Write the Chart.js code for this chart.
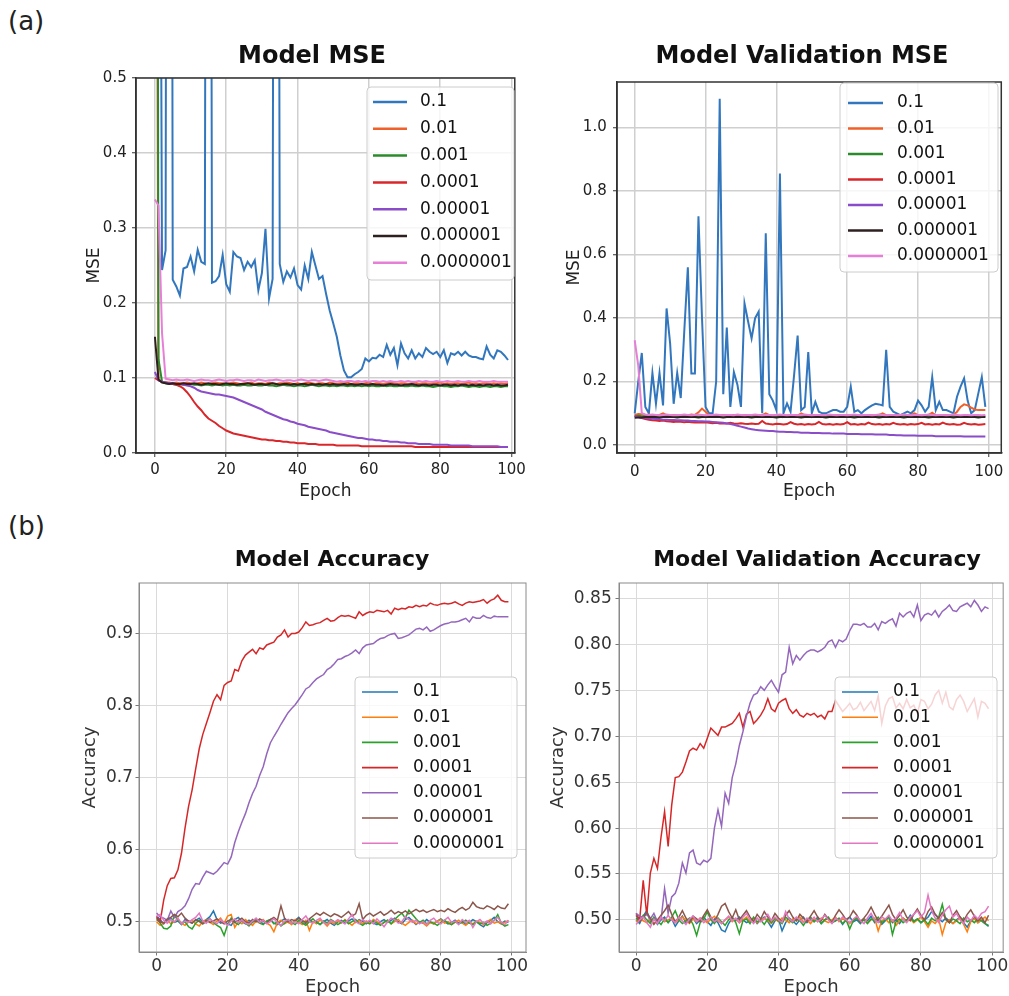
<!DOCTYPE html>
<html>
<head>
<meta charset="utf-8">
<script src="https://cdn.jsdelivr.net/npm/chart.js@4/dist/chart.umd.min.js"></script>
<style>
html,body{margin:0;padding:0;background:#fff;width:1009px;height:996px;overflow:hidden;}
.panel{position:absolute;}
.tag{position:absolute;font-family:'DejaVu Sans',sans-serif;font-size:26px;line-height:1;color:#222;}
</style>
</head>
<body>
<div class="tag" style="left:8px;top:8px">(a)</div>
<div class="tag" style="left:8px;top:513px">(b)</div>
<div class="panel" id="p1"><canvas id="c1"></canvas></div>
<div class="panel" id="p2"><canvas id="c2"></canvas></div>
<div class="panel" id="p3"><canvas id="c3"></canvas></div>
<div class="panel" id="p4"><canvas id="c4"></canvas></div>
<script>
// ---------------- DATA ----------------
const lrLabels = ['0.1','0.01','0.001','0.0001','0.00001','0.000001','0.0000001'];
const epochs = [
0,1,2,3,4,5,6,7,8,9,
10,11,12,13,14,15,16,17,18,19,
20,21,22,23,24,25,26,27,28,29,
30,31,32,33,34,35,36,37,38,39,
40,41,42,43,44,45,46,47,48,49,
50,51,52,53,54,55,56,57,58,59,
60,61,62,63,64,65,66,67,68,69,
70,71,72,73,74,75,76,77,78,79,
80,81,82,83,84,85,86,87,88,89,
90,91,92,93,94,95,96,97,98,99];

const epochTicks = [0,20,40,60,80,100];
const epochTickLabels = ['0','20','40','60','80','100'];
const mseTicks = [0,0.1,0.2,0.3,0.4,0.5];
const mseTickLabels = ['0.0','0.1','0.2','0.3','0.4','0.5'];
const valMseTicks = [0,0.2,0.4,0.6,0.8,1.0];
const valMseTickLabels = ['0.0','0.2','0.4','0.6','0.8','1.0'];
const accTicks = [0.5,0.6,0.7,0.8,0.9];
const accTickLabels = ['0.5','0.6','0.7','0.8','0.9'];
const valAccTicks = [0.50,0.55,0.60,0.65,0.70,0.75,0.80,0.85];
const valAccTickLabels = ['0.50','0.55','0.60','0.65','0.70','0.75','0.80','0.85'];

// (a) Model MSE (training)
const trainMSE_1e1 = [
5.2,1.5,0.244,0.270,3.2,0.231,0.222,0.210,0.246,0.248,
0.262,0.242,0.271,0.255,0.252,2.8,0.227,0.229,0.236,0.264,
0.225,0.215,0.268,0.262,0.260,0.244,0.255,0.248,0.257,0.217,
0.240,0.299,0.206,0.232,2.5,0.252,0.228,0.242,0.234,0.246,
0.224,0.218,0.250,0.232,0.268,0.250,0.232,0.236,0.212,0.190,
0.173,0.155,0.130,0.110,0.101,0.101,0.105,0.108,0.112,0.126,
0.122,0.127,0.126,0.131,0.128,0.144,0.131,0.140,0.117,0.146,
0.133,0.126,0.137,0.126,0.133,0.128,0.140,0.135,0.132,0.135,
0.128,0.137,0.120,0.133,0.131,0.135,0.130,0.135,0.130,0.128,
0.128,0.126,0.125,0.142,0.131,0.126,0.137,0.135,0.130,0.124];
const trainMSE_1e2 = [
1.6,0.098,0.095,0.094,0.094,0.093,0.094,0.093,0.093,0.094,
0.093,0.092,0.093,0.094,0.093,0.092,0.093,0.094,0.093,0.093,
0.092,0.093,0.094,0.093,0.092,0.093,0.093,0.094,0.092,0.093,
0.093,0.092,0.094,0.093,0.092,0.093,0.093,0.094,0.093,0.092,
0.093,0.092,0.093,0.094,0.093,0.092,0.093,0.093,0.092,0.094,
0.093,0.092,0.093,0.093,0.094,0.092,0.093,0.093,0.092,0.093,
0.094,0.092,0.093,0.093,0.092,0.093,0.094,0.093,0.092,0.093,
0.093,0.092,0.093,0.094,0.092,0.093,0.093,0.092,0.093,0.093,
0.094,0.092,0.093,0.092,0.093,0.093,0.092,0.093,0.094,0.092,
0.093,0.092,0.093,0.093,0.092,0.093,0.092,0.093,0.092,0.093];
const trainMSE_1e3 = [
3.0,0.125,0.095,0.093,0.092,0.092,0.091,0.092,0.091,0.091,
0.092,0.091,0.091,0.090,0.091,0.091,0.090,0.091,0.091,0.090,
0.091,0.090,0.091,0.090,0.090,0.091,0.090,0.090,0.091,0.090,
0.090,0.091,0.090,0.090,0.089,0.090,0.091,0.090,0.090,0.089,
0.090,0.090,0.089,0.090,0.091,0.090,0.089,0.090,0.090,0.089,
0.090,0.089,0.090,0.090,0.089,0.090,0.089,0.090,0.089,0.090,
0.089,0.090,0.089,0.089,0.090,0.089,0.090,0.089,0.089,0.090,
0.089,0.089,0.090,0.089,0.089,0.090,0.089,0.089,0.088,0.089,
0.090,0.089,0.089,0.088,0.089,0.089,0.090,0.089,0.088,0.089,
0.089,0.088,0.089,0.089,0.088,0.089,0.089,0.088,0.089,0.089];
const trainMSE_1e4 = [
0.100,0.097,0.095,0.094,0.093,0.092,0.091,0.089,0.086,0.081,
0.075,0.068,0.062,0.057,0.051,0.046,0.043,0.040,0.036,0.033,
0.030,0.028,0.026,0.025,0.024,0.023,0.022,0.021,0.020,0.019,
0.018,0.018,0.017,0.017,0.016,0.016,0.015,0.015,0.014,0.014,
0.013,0.013,0.013,0.012,0.012,0.012,0.011,0.011,0.011,0.011,
0.011,0.010,0.010,0.010,0.010,0.010,0.010,0.010,0.009,0.009,
0.009,0.009,0.009,0.009,0.009,0.009,0.009,0.009,0.009,0.009,
0.009,0.009,0.009,0.008,0.008,0.008,0.008,0.008,0.008,0.008,
0.008,0.008,0.008,0.008,0.008,0.008,0.008,0.008,0.008,0.008,
0.008,0.008,0.008,0.008,0.008,0.008,0.008,0.008,0.008,0.008];
const trainMSE_1e5 = [
0.108,0.097,0.095,0.094,0.093,0.093,0.092,0.092,0.091,0.090,
0.089,0.087,0.084,0.082,0.081,0.080,0.079,0.078,0.078,0.077,
0.076,0.075,0.074,0.072,0.070,0.068,0.066,0.064,0.062,0.060,
0.058,0.055,0.053,0.051,0.049,0.047,0.045,0.044,0.042,0.041,
0.039,0.038,0.037,0.035,0.034,0.033,0.032,0.031,0.030,0.028,
0.027,0.026,0.025,0.024,0.023,0.022,0.021,0.020,0.020,0.019,
0.018,0.018,0.017,0.017,0.016,0.016,0.015,0.015,0.015,0.014,
0.014,0.013,0.013,0.013,0.012,0.012,0.012,0.012,0.011,0.011,
0.011,0.011,0.011,0.010,0.010,0.010,0.010,0.010,0.010,0.009,
0.009,0.009,0.009,0.009,0.009,0.009,0.009,0.008,0.008,0.008];
const trainMSE_1e6 = [
0.155,0.098,0.094,0.093,0.092,0.093,0.092,0.092,0.093,0.092,
0.092,0.093,0.092,0.091,0.092,0.093,0.092,0.092,0.091,0.092,
0.093,0.092,0.092,0.091,0.092,0.092,0.093,0.092,0.091,0.092,
0.092,0.091,0.092,0.093,0.092,0.091,0.092,0.092,0.091,0.092,
0.091,0.092,0.092,0.091,0.092,0.091,0.092,0.091,0.092,0.091,
0.092,0.091,0.091,0.092,0.091,0.092,0.091,0.091,0.092,0.091,
0.091,0.092,0.091,0.091,0.090,0.091,0.092,0.091,0.091,0.090,
0.091,0.091,0.092,0.091,0.090,0.091,0.091,0.090,0.091,0.091,
0.090,0.091,0.091,0.090,0.091,0.090,0.091,0.091,0.090,0.091,
0.090,0.091,0.090,0.091,0.091,0.090,0.091,0.090,0.090,0.091];
const trainMSE_1e7 = [
0.338,0.330,0.160,0.099,0.098,0.097,0.098,0.097,0.097,0.098,
0.097,0.096,0.097,0.098,0.097,0.097,0.096,0.097,0.098,0.097,
0.096,0.097,0.097,0.098,0.097,0.096,0.097,0.097,0.096,0.098,
0.097,0.096,0.097,0.097,0.098,0.097,0.096,0.097,0.097,0.096,
0.097,0.098,0.097,0.096,0.097,0.097,0.096,0.097,0.098,0.097,
0.096,0.095,0.096,0.095,0.096,0.096,0.095,0.096,0.095,0.096,
0.095,0.096,0.096,0.095,0.096,0.095,0.096,0.095,0.095,0.096,
0.095,0.096,0.095,0.095,0.096,0.095,0.096,0.095,0.095,0.096,
0.095,0.095,0.096,0.095,0.095,0.096,0.095,0.095,0.096,0.095,
0.095,0.096,0.095,0.095,0.095,0.096,0.095,0.095,0.095,0.095];

// (a) Model Validation MSE
const valMSE_1e1 = [
0.100,0.200,0.290,0.120,0.100,0.227,0.130,0.227,0.125,0.430,
0.320,0.130,0.227,0.148,0.360,0.560,0.225,0.225,0.720,0.400,
0.120,0.100,0.100,0.200,1.090,0.160,0.370,0.120,0.230,0.190,
0.120,0.446,0.390,0.336,0.400,0.420,0.100,0.667,0.160,0.140,
0.110,0.855,0.100,0.131,0.105,0.220,0.345,0.110,0.120,0.293,
0.100,0.136,0.105,0.100,0.100,0.105,0.110,0.110,0.105,0.105,
0.120,0.184,0.105,0.110,0.100,0.110,0.118,0.125,0.130,0.128,
0.125,0.300,0.120,0.105,0.100,0.094,0.100,0.105,0.100,0.110,
0.140,0.125,0.105,0.120,0.214,0.110,0.136,0.110,0.110,0.105,
0.100,0.152,0.184,0.210,0.140,0.100,0.110,0.162,0.214,0.120];
const valMSE_1e2 = [
0.095,0.098,0.097,0.094,0.096,0.093,0.094,0.095,0.100,0.094,
0.093,0.095,0.094,0.093,0.095,0.094,0.096,0.095,0.103,0.115,
0.105,0.095,0.094,0.093,0.094,0.095,0.094,0.093,0.095,0.094,
0.093,0.094,0.095,0.094,0.093,0.095,0.094,0.100,0.094,0.093,
0.094,0.095,0.094,0.093,0.094,0.095,0.093,0.100,0.094,0.093,
0.094,0.095,0.093,0.094,0.095,0.094,0.093,0.094,0.095,0.094,
0.093,0.094,0.095,0.094,0.093,0.094,0.095,0.094,0.093,0.095,
0.100,0.094,0.093,0.094,0.095,0.094,0.093,0.094,0.095,0.100,
0.094,0.093,0.094,0.095,0.102,0.094,0.093,0.095,0.094,0.093,
0.095,0.105,0.120,0.128,0.125,0.118,0.112,0.110,0.110,0.110];
const valMSE_1e3 = [
0.091,0.092,0.091,0.090,0.091,0.091,0.090,0.091,0.090,0.091,
0.090,0.091,0.090,0.090,0.091,0.090,0.090,0.091,0.090,0.090,
0.091,0.090,0.090,0.091,0.090,0.090,0.091,0.090,0.090,0.090,
0.091,0.090,0.090,0.091,0.090,0.090,0.090,0.091,0.090,0.090,
0.091,0.090,0.090,0.090,0.091,0.090,0.090,0.091,0.090,0.090,
0.090,0.091,0.090,0.090,0.090,0.091,0.090,0.090,0.091,0.090,
0.090,0.090,0.091,0.090,0.090,0.091,0.090,0.090,0.090,0.091,
0.090,0.090,0.091,0.090,0.090,0.090,0.091,0.090,0.090,0.091,
0.090,0.090,0.090,0.091,0.090,0.090,0.091,0.090,0.090,0.090,
0.091,0.090,0.090,0.091,0.090,0.090,0.090,0.091,0.090,0.090];
const valMSE_1e4 = [
0.092,0.088,0.085,0.082,0.080,0.078,0.077,0.076,0.077,0.075,
0.074,0.073,0.074,0.073,0.072,0.073,0.072,0.071,0.072,0.071,
0.072,0.070,0.069,0.070,0.068,0.069,0.068,0.070,0.068,0.067,
0.069,0.067,0.066,0.068,0.066,0.067,0.076,0.068,0.066,0.065,
0.067,0.066,0.065,0.066,0.072,0.067,0.065,0.066,0.064,0.066,
0.065,0.066,0.073,0.066,0.065,0.066,0.064,0.066,0.065,0.066,
0.072,0.065,0.066,0.064,0.066,0.065,0.071,0.066,0.065,0.066,
0.064,0.066,0.065,0.070,0.066,0.065,0.066,0.064,0.066,0.065,
0.066,0.070,0.065,0.066,0.064,0.066,0.065,0.071,0.066,0.065,
0.066,0.064,0.065,0.070,0.066,0.065,0.066,0.064,0.065,0.066];
const valMSE_1e5 = [
0.092,0.088,0.086,0.085,0.084,0.083,0.082,0.081,0.080,0.080,
0.079,0.079,0.078,0.078,0.077,0.077,0.076,0.076,0.075,0.075,
0.074,0.074,0.073,0.072,0.071,0.070,0.068,0.066,0.064,0.061,
0.058,0.055,0.052,0.050,0.048,0.047,0.046,0.045,0.044,0.044,
0.043,0.042,0.042,0.041,0.041,0.040,0.040,0.039,0.039,0.039,
0.038,0.038,0.038,0.037,0.037,0.037,0.036,0.036,0.036,0.036,
0.035,0.035,0.035,0.035,0.034,0.034,0.034,0.034,0.033,0.033,
0.033,0.033,0.032,0.032,0.031,0.031,0.030,0.030,0.030,0.030,
0.029,0.029,0.029,0.029,0.029,0.028,0.028,0.028,0.028,0.028,
0.028,0.028,0.028,0.027,0.027,0.027,0.027,0.027,0.027,0.027];
const valMSE_1e6 = [
0.086,0.087,0.087,0.088,0.088,0.088,0.088,0.087,0.088,0.088,
0.088,0.088,0.087,0.088,0.088,0.088,0.088,0.088,0.087,0.088,
0.088,0.088,0.088,0.088,0.088,0.087,0.088,0.088,0.088,0.088,
0.088,0.088,0.088,0.087,0.088,0.088,0.088,0.088,0.088,0.088,
0.087,0.088,0.088,0.088,0.088,0.088,0.088,0.087,0.088,0.088,
0.088,0.088,0.088,0.088,0.087,0.088,0.088,0.088,0.088,0.088,
0.088,0.088,0.087,0.088,0.088,0.088,0.088,0.088,0.088,0.087,
0.088,0.088,0.088,0.088,0.088,0.088,0.087,0.088,0.088,0.088,
0.088,0.088,0.088,0.087,0.088,0.088,0.088,0.088,0.088,0.088,
0.087,0.088,0.088,0.088,0.088,0.088,0.088,0.087,0.088,0.088];
const valMSE_1e7 = [
0.330,0.250,0.100,0.096,0.095,0.096,0.095,0.094,0.095,0.096,
0.095,0.094,0.095,0.095,0.096,0.095,0.094,0.095,0.096,0.095,
0.094,0.095,0.095,0.096,0.095,0.094,0.095,0.095,0.094,0.096,
0.095,0.094,0.095,0.095,0.096,0.095,0.094,0.095,0.095,0.094,
0.095,0.096,0.095,0.094,0.095,0.095,0.094,0.095,0.096,0.095,
0.094,0.095,0.095,0.094,0.095,0.096,0.095,0.094,0.095,0.095,
0.094,0.095,0.096,0.095,0.094,0.095,0.095,0.094,0.095,0.096,
0.095,0.094,0.095,0.095,0.094,0.095,0.096,0.095,0.094,0.095,
0.095,0.094,0.095,0.096,0.095,0.094,0.095,0.095,0.094,0.095,
0.096,0.095,0.094,0.095,0.095,0.094,0.095,0.095,0.094,0.095];

// (b) Model Accuracy (training)
const acc_1e1 = [
0.508,0.503,0.497,0.502,0.505,0.499,0.501,0.496,0.503,0.500,
0.498,0.502,0.505,0.500,0.503,0.507,0.515,0.503,0.498,0.500,
0.497,0.495,0.503,0.506,0.500,0.497,0.502,0.499,0.504,0.501,
0.497,0.500,0.503,0.498,0.496,0.501,0.504,0.499,0.497,0.502,
0.506,0.500,0.497,0.503,0.499,0.501,0.496,0.500,0.503,0.498,
0.495,0.500,0.502,0.498,0.501,0.504,0.499,0.503,0.500,0.497,
0.501,0.498,0.496,0.500,0.503,0.499,0.502,0.505,0.500,0.497,
0.503,0.506,0.501,0.496,0.500,0.498,0.503,0.499,0.497,0.501,
0.504,0.500,0.497,0.499,0.502,0.498,0.501,0.496,0.499,0.503,
0.500,0.496,0.493,0.499,0.502,0.506,0.500,0.497,0.501,0.499];
const acc_1e2 = [
0.500,0.495,0.498,0.503,0.497,0.500,0.504,0.498,0.495,0.500,
0.502,0.497,0.494,0.500,0.503,0.499,0.496,0.501,0.505,0.498,
0.508,0.510,0.492,0.500,0.497,0.503,0.499,0.495,0.501,0.498,
0.503,0.498,0.495,0.486,0.499,0.502,0.497,0.500,0.496,0.503,
0.499,0.496,0.502,0.488,0.500,0.497,0.503,0.499,0.494,0.500,
0.497,0.501,0.498,0.503,0.499,0.495,0.500,0.502,0.497,0.501,
0.498,0.503,0.500,0.496,0.499,0.502,0.497,0.500,0.503,0.498,
0.495,0.499,0.502,0.497,0.500,0.498,0.494,0.499,0.497,0.501,
0.503,0.498,0.500,0.496,0.499,0.502,0.498,0.495,0.500,0.497,
0.501,0.499,0.496,0.500,0.503,0.498,0.500,0.497,0.499,0.502];
const acc_1e3 = [
0.505,0.498,0.491,0.490,0.494,0.509,0.502,0.497,0.500,0.493,
0.490,0.498,0.502,0.497,0.500,0.504,0.499,0.495,0.492,0.481,
0.496,0.505,0.499,0.496,0.502,0.498,0.494,0.500,0.503,0.498,
0.496,0.501,0.503,0.497,0.500,0.494,0.498,0.503,0.499,0.496,
0.502,0.498,0.495,0.500,0.504,0.499,0.496,0.501,0.498,0.503,
0.500,0.496,0.499,0.502,0.497,0.500,0.503,0.498,0.495,0.499,
0.497,0.501,0.498,0.495,0.499,0.502,0.497,0.503,0.508,0.512,
0.505,0.516,0.510,0.504,0.499,0.502,0.497,0.500,0.498,0.495,
0.499,0.502,0.498,0.496,0.500,0.497,0.499,0.502,0.498,0.496,
0.500,0.497,0.499,0.495,0.498,0.502,0.510,0.498,0.494,0.496];
const acc_1e4 = [
0.507,0.500,0.530,0.550,0.560,0.561,0.572,0.595,0.630,0.660,
0.683,0.712,0.740,0.760,0.775,0.790,0.806,0.815,0.808,0.828,
0.832,0.834,0.850,0.848,0.862,0.870,0.874,0.878,0.872,0.880,
0.878,0.884,0.886,0.888,0.895,0.898,0.905,0.895,0.900,0.900,
0.902,0.908,0.916,0.911,0.912,0.914,0.915,0.918,0.921,0.917,
0.918,0.922,0.925,0.924,0.925,0.923,0.921,0.930,0.925,0.928,
0.930,0.929,0.932,0.931,0.930,0.932,0.927,0.935,0.933,0.935,
0.934,0.937,0.936,0.939,0.937,0.939,0.938,0.942,0.940,0.939,
0.941,0.942,0.941,0.942,0.944,0.941,0.939,0.942,0.944,0.943,
0.944,0.945,0.947,0.942,0.946,0.948,0.953,0.946,0.944,0.944];
const acc_1e5 = [
0.512,0.507,0.505,0.502,0.515,0.506,0.514,0.517,0.522,0.532,
0.545,0.553,0.552,0.562,0.570,0.568,0.566,0.570,0.576,0.582,
0.580,0.590,0.610,0.625,0.638,0.650,0.665,0.678,0.688,0.703,
0.715,0.733,0.748,0.757,0.765,0.774,0.782,0.790,0.796,0.801,
0.808,0.815,0.823,0.826,0.832,0.837,0.840,0.843,0.850,0.853,
0.858,0.864,0.865,0.868,0.870,0.873,0.877,0.872,0.880,0.884,
0.885,0.886,0.890,0.893,0.894,0.897,0.899,0.900,0.893,0.894,
0.896,0.898,0.902,0.906,0.907,0.905,0.909,0.903,0.905,0.908,
0.911,0.913,0.914,0.916,0.916,0.917,0.919,0.921,0.916,0.923,
0.921,0.921,0.925,0.922,0.921,0.924,0.923,0.923,0.923,0.923];
const acc_1e6 = [
0.503,0.500,0.498,0.504,0.506,0.510,0.507,0.512,0.505,0.501,
0.498,0.503,0.500,0.497,0.502,0.499,0.501,0.504,0.500,0.497,
0.501,0.503,0.499,0.502,0.505,0.500,0.498,0.503,0.500,0.504,
0.501,0.498,0.503,0.506,0.502,0.522,0.505,0.500,0.503,0.501,
0.505,0.502,0.499,0.504,0.508,0.512,0.509,0.513,0.510,0.507,
0.511,0.509,0.506,0.510,0.514,0.508,0.511,0.525,0.503,0.509,
0.512,0.508,0.511,0.514,0.509,0.512,0.516,0.511,0.514,0.512,
0.515,0.511,0.514,0.517,0.514,0.516,0.513,0.515,0.517,0.514,
0.516,0.514,0.518,0.515,0.513,0.517,0.520,0.516,0.519,0.527,
0.521,0.519,0.518,0.522,0.520,0.517,0.522,0.519,0.518,0.525];
const acc_1e7 = [
0.507,0.510,0.502,0.498,0.503,0.500,0.505,0.497,0.501,0.499,
0.503,0.506,0.512,0.501,0.498,0.504,0.500,0.497,0.503,0.499,
0.495,0.501,0.504,0.499,0.502,0.498,0.496,0.501,0.505,0.499,
0.502,0.497,0.500,0.504,0.499,0.495,0.501,0.503,0.498,0.500,
0.497,0.503,0.508,0.500,0.498,0.502,0.505,0.499,0.496,0.502,
0.499,0.503,0.500,0.497,0.504,0.510,0.500,0.497,0.503,0.499,
0.502,0.497,0.504,0.499,0.493,0.500,0.505,0.503,0.498,0.500,
0.507,0.503,0.499,0.502,0.497,0.500,0.496,0.502,0.505,0.499,
0.497,0.502,0.506,0.499,0.501,0.496,0.503,0.499,0.502,0.492,
0.500,0.503,0.498,0.501,0.497,0.502,0.506,0.499,0.496,0.502];

// (b) Model Validation Accuracy
const valAcc_1e1 = [
0.500,0.496,0.504,0.510,0.498,0.502,0.495,0.500,0.503,0.497,
0.501,0.493,0.499,0.504,0.497,0.500,0.502,0.496,0.500,0.503,
0.498,0.494,0.501,0.497,0.489,0.487,0.496,0.502,0.499,0.503,
0.500,0.497,0.499,0.502,0.496,0.500,0.503,0.498,0.492,0.499,
0.501,0.488,0.497,0.502,0.499,0.495,0.500,0.503,0.497,0.501,
0.498,0.503,0.496,0.500,0.502,0.497,0.499,0.501,0.495,0.500,
0.503,0.498,0.500,0.496,0.501,0.499,0.504,0.497,0.500,0.495,
0.499,0.503,0.497,0.500,0.496,0.502,0.499,0.505,0.498,0.501,
0.497,0.500,0.503,0.509,0.506,0.501,0.498,0.502,0.499,0.496,
0.500,0.503,0.497,0.492,0.499,0.502,0.497,0.500,0.496,0.493];
const valAcc_1e2 = [
0.498,0.502,0.499,0.497,0.501,0.496,0.500,0.503,0.498,0.500,
0.502,0.497,0.500,0.503,0.499,0.496,0.501,0.498,0.502,0.500,
0.497,0.501,0.504,0.499,0.496,0.500,0.503,0.498,0.501,0.497,
0.500,0.503,0.498,0.501,0.497,0.500,0.502,0.499,0.496,0.501,
0.498,0.502,0.500,0.497,0.501,0.499,0.503,0.498,0.500,0.496,
0.501,0.498,0.502,0.499,0.497,0.500,0.503,0.498,0.501,0.499,
0.496,0.500,0.503,0.498,0.501,0.497,0.500,0.502,0.488,0.499,
0.501,0.497,0.500,0.494,0.499,0.502,0.498,0.501,0.497,0.500,
0.503,0.498,0.492,0.499,0.496,0.501,0.484,0.497,0.500,0.496,
0.499,0.502,0.495,0.487,0.498,0.501,0.497,0.500,0.503,0.499];
const valAcc_1e3 = [
0.502,0.498,0.505,0.500,0.496,0.503,0.499,0.495,0.501,0.497,
0.503,0.510,0.500,0.496,0.499,0.502,0.495,0.483,0.497,0.501,
0.509,0.500,0.496,0.502,0.498,0.494,0.500,0.503,0.497,0.485,
0.499,0.501,0.496,0.503,0.498,0.500,0.495,0.501,0.497,0.502,
0.499,0.496,0.503,0.500,0.497,0.501,0.499,0.494,0.500,0.503,
0.498,0.501,0.496,0.500,0.503,0.497,0.499,0.502,0.496,0.500,
0.490,0.499,0.502,0.497,0.500,0.496,0.501,0.499,0.503,0.497,
0.500,0.504,0.484,0.498,0.501,0.497,0.500,0.503,0.498,0.501,
0.497,0.500,0.495,0.502,0.499,0.503,0.517,0.500,0.497,0.501,
0.499,0.496,0.502,0.498,0.500,0.497,0.501,0.499,0.496,0.494];
const valAcc_1e4 = [
0.507,0.500,0.543,0.505,0.551,0.567,0.556,0.590,0.618,0.580,
0.625,0.655,0.656,0.661,0.672,0.684,0.687,0.685,0.692,0.687,
0.698,0.709,0.705,0.701,0.710,0.710,0.712,0.714,0.719,0.725,
0.710,0.724,0.727,0.714,0.718,0.723,0.730,0.741,0.730,0.727,
0.736,0.739,0.741,0.730,0.725,0.729,0.723,0.721,0.725,0.723,
0.725,0.721,0.723,0.719,0.727,0.727,0.739,0.733,0.727,0.731,
0.736,0.729,0.731,0.737,0.728,0.733,0.738,0.728,0.744,0.714,
0.733,0.741,0.743,0.731,0.736,0.730,0.740,0.731,0.734,0.725,
0.740,0.738,0.730,0.735,0.745,0.750,0.736,0.748,0.732,0.729,
0.740,0.745,0.738,0.727,0.734,0.741,0.721,0.738,0.736,0.730];
const valAcc_1e5 = [
0.507,0.504,0.503,0.506,0.501,0.507,0.498,0.500,0.534,0.507,
0.525,0.529,0.540,0.562,0.551,0.573,0.576,0.562,0.560,0.565,
0.563,0.567,0.600,0.620,0.602,0.638,0.627,0.655,0.670,0.690,
0.705,0.722,0.736,0.745,0.747,0.754,0.750,0.756,0.761,0.754,
0.748,0.767,0.770,0.797,0.779,0.788,0.783,0.788,0.792,0.794,
0.794,0.792,0.794,0.797,0.803,0.805,0.797,0.805,0.803,0.806,
0.815,0.822,0.822,0.821,0.823,0.819,0.819,0.823,0.816,0.825,
0.823,0.826,0.828,0.820,0.834,0.830,0.834,0.836,0.830,0.843,
0.826,0.832,0.834,0.832,0.837,0.830,0.836,0.839,0.843,0.837,
0.836,0.841,0.843,0.845,0.841,0.848,0.843,0.836,0.841,0.839];
const valAcc_1e6 = [
0.505,0.498,0.503,0.508,0.502,0.495,0.500,0.505,0.510,0.516,
0.506,0.498,0.503,0.510,0.502,0.497,0.504,0.501,0.498,0.505,
0.511,0.503,0.498,0.506,0.515,0.518,0.509,0.502,0.511,0.500,
0.505,0.510,0.503,0.498,0.506,0.501,0.509,0.503,0.499,0.507,
0.502,0.498,0.505,0.510,0.503,0.499,0.506,0.502,0.498,0.504,
0.510,0.503,0.499,0.506,0.501,0.497,0.505,0.511,0.506,0.500,
0.503,0.510,0.505,0.498,0.502,0.507,0.514,0.506,0.499,0.504,
0.510,0.516,0.506,0.500,0.505,0.511,0.503,0.499,0.506,0.512,
0.505,0.500,0.509,0.514,0.506,0.502,0.508,0.501,0.497,0.505,
0.510,0.503,0.499,0.506,0.511,0.504,0.499,0.503,0.497,0.505];
const valAcc_1e7 = [
0.495,0.500,0.503,0.497,0.492,0.501,0.496,0.503,0.499,0.505,
0.500,0.497,0.503,0.499,0.495,0.501,0.504,0.498,0.502,0.497,
0.500,0.503,0.498,0.501,0.496,0.500,0.504,0.499,0.502,0.497,
0.503,0.507,0.500,0.496,0.502,0.498,0.501,0.506,0.499,0.503,
0.500,0.497,0.509,0.501,0.498,0.503,0.500,0.497,0.502,0.499,
0.503,0.498,0.501,0.505,0.500,0.496,0.502,0.499,0.503,0.500,
0.497,0.501,0.504,0.499,0.496,0.502,0.507,0.500,0.497,0.503,
0.501,0.505,0.499,0.502,0.508,0.500,0.497,0.503,0.506,0.510,
0.503,0.508,0.527,0.510,0.502,0.497,0.505,0.511,0.515,0.503,
0.507,0.500,0.496,0.503,0.499,0.505,0.501,0.507,0.509,0.515];

// ---------------- STYLE / LAYOUT ----------------
const FONT = "'DejaVu Sans', sans-serif";
const topColors = ['#3277bd','#f0602a','#2b8a2b','#d9262b','#8a4cc9','#2e2020','#e67fd6'];
const botColors = ['#1f77b4','#ff7f0e','#2ca02c','#d62728','#9467bd','#8c564b','#e377c2'];

const topStyle = {tickSize:15, axisTitleSize:17, textColor:'#222', grid:'#cfcfcf', gridW:1.5,
  spine:'#333', spineW:1.5, tickLen:4, tickMark:'#333', lw:2, legendLw:2.5};
const botStyle = {tickSize:17, axisTitleSize:18, textColor:'#333', grid:'#dadada', gridW:1,
  spine:'#8a8a8a', spineW:1, tickLen:3.5, tickMark:'#777', lw:1.5, legendLw:1.6};

const panels = [
  {canvas:'c1', box:'p1', cx:50, cy:30, cw:480, ch:480, plot:{l:136,t:78,r:517,b:453},
   series:[trainMSE_1e1,trainMSE_1e2,trainMSE_1e3,trainMSE_1e4,trainMSE_1e5,trainMSE_1e6,trainMSE_1e7],
   colors:topColors, st:topStyle, xMin:-5.3, xMax:100.9, yMin:0, yMax:0.5,
   yTicks:mseTicks, yTickLabels:mseTickLabels, yTitle:'MSE',
   xTickPad:4, yTickPad:5.3, yTitlePad:34.8, xTitlePad:8.1,
   title:'Model MSE', titleX:312, titleY:57, titleSize:24,
   leg:{bl:367, bt:87, br:514, bb:280, y0:102, dy:26.8, sx1:373, sx2:407, tx:420}},
  {canvas:'c2', box:'p2', cx:540, cy:30, cw:469, ch:480, plot:{l:617,t:82,r:1006,b:453},
   series:[valMSE_1e1,valMSE_1e2,valMSE_1e3,valMSE_1e4,valMSE_1e5,valMSE_1e6,valMSE_1e7],
   colors:topColors, st:topStyle, xMin:-5, xMax:103.5, yMin:-0.025, yMax:1.143,
   yTicks:valMseTicks, yTickLabels:valMseTickLabels, yTitle:'MSE',
   xTickPad:5.7, yTickPad:6.3, yTitlePad:24.8, xTitlePad:8.1,
   title:'Model Validation MSE', titleX:802, titleY:57, titleSize:24,
   leg:{bl:840, bt:83, br:998, bb:272, y0:103, dy:25.5, sx1:848, sx2:883, tx:897}},
  {canvas:'c3', box:'p3', cx:50, cy:530, cw:490, ch:470, plot:{l:139,t:583,r:526,b:952},
   series:[acc_1e1,acc_1e2,acc_1e3,acc_1e4,acc_1e5,acc_1e6,acc_1e7],
   colors:botColors, st:botStyle, xMin:-4.95, xMax:103.95, yMin:0.458, yMax:0.970,
   yTicks:accTicks, yTickLabels:accTickLabels, yTitle:'Accuracy',
   xTickPad:0.5, yTickPad:2.5, yTitlePad:29.2, xTitlePad:2.2,
   title:'Model Accuracy', titleX:332, titleY:560, titleSize:22,
   leg:{bl:355, bt:677, br:517, bb:858, y0:692, dy:25.2, sx1:362, sx2:398, tx:413}},
  {canvas:'c4', box:'p4', cx:540, cy:530, cw:469, ch:470, plot:{l:619,t:583,r:1004,b:952},
   series:[valAcc_1e1,valAcc_1e2,valAcc_1e3,valAcc_1e4,valAcc_1e5,valAcc_1e6,valAcc_1e7],
   colors:botColors, st:botStyle, xMin:-4.8, xMax:103.1, yMin:0.465, yMax:0.867,
   yTicks:valAccTicks, yTickLabels:valAccTickLabels, yTitle:'Accuracy',
   xTickPad:0.5, yTickPad:3.8, yTitlePad:7.2, xTitlePad:2.2,
   title:'Model Validation Accuracy', titleX:817, titleY:560, titleSize:22,
   leg:{bl:835, bt:677, br:997, bb:858, y0:692, dy:25.2, sx1:842, sx2:878, tx:893}}
];

// ---------------- PLUGINS ----------------
const framePlugin = {
  id:'frame',
  afterDatasetsDraw(chart, args, o) {
    const a = chart.chartArea, ctx = chart.ctx;
    ctx.save();
    ctx.strokeStyle = o.color; ctx.lineWidth = o.width;
    ctx.strokeRect(a.left, a.top, a.right - a.left, a.bottom - a.top);
    ctx.restore();
  }
};
const boxLegend = {
  id:'boxLegend',
  afterDraw(chart, args, o) {
    const ctx = chart.ctx, ox = o.ox, oy = o.oy;
    ctx.save();
    const x = o.bl - ox, y = o.bt - oy, w = o.br - o.bl, h = o.bb - o.bt;
    ctx.beginPath();
    if (ctx.roundRect) ctx.roundRect(x, y, w, h, 4); else ctx.rect(x, y, w, h);
    ctx.fillStyle = 'rgba(255,255,255,0.8)'; ctx.fill();
    ctx.strokeStyle = '#cccccc'; ctx.lineWidth = 1; ctx.stroke();
    ctx.font = o.font; ctx.textBaseline = 'middle'; ctx.textAlign = 'left';
    chart.data.datasets.forEach((ds, i) => {
      const yy = o.y0 + i * o.dy - oy;
      ctx.strokeStyle = ds.borderColor; ctx.lineWidth = o.lw;
      ctx.beginPath(); ctx.moveTo(o.sx1 - ox, yy); ctx.lineTo(o.sx2 - ox, yy); ctx.stroke();
      ctx.fillStyle = o.color;
      ctx.fillText(ds.label, o.tx - ox, yy);
    });
    ctx.restore();
  }
};
const panelTitle = {
  id:'panelTitle',
  afterDraw(chart, args, o) {
    const ctx = chart.ctx;
    ctx.save();
    ctx.font = o.font; ctx.fillStyle = '#111';
    ctx.textAlign = 'center'; ctx.textBaseline = 'middle';
    ctx.fillText(o.text, o.x - o.ox, o.y - o.oy);
    ctx.restore();
  }
};
Chart.register(framePlugin, boxLegend, panelTitle);

// ---------------- BUILD ----------------
panels.forEach(P => {
  const box = document.getElementById(P.box);
  box.style.left = P.cx + 'px'; box.style.top = P.cy + 'px';
  box.style.width = P.cw + 'px'; box.style.height = P.ch + 'px';
  const cv = document.getElementById(P.canvas);
  cv.width = P.cw; cv.height = P.ch;
  cv.style.width = P.cw + 'px'; cv.style.height = P.ch + 'px';
  const S = P.st;
  const datasets = P.series.map((vals, i) => ({
    label: lrLabels[i],
    data: vals.map((v, j) => ({x: epochs[j], y: v})),
    borderColor: P.colors[i],
    backgroundColor: P.colors[i],
    borderWidth: S.lw,
    pointRadius: 0,
    tension: 0,
    fill: false,
    order: 6 - i
  }));
  new Chart(cv, {
    type: 'line',
    data: {datasets},
    options: {
      responsive: false,
      animation: false,
      events: [],
      devicePixelRatio: 1,
      layout: {padding: {left: 0, top: P.plot.t - P.cy, right: (P.cx + P.cw) - P.plot.r, bottom: 0}},
      plugins: {
        legend: {display: false},
        tooltip: {enabled: false},
        frame: {color: S.spine, width: S.spineW},
        boxLegend: Object.assign({ox: P.cx, oy: P.cy, font: '17px ' + FONT, color: '#111', lw: S.legendLw}, P.leg),
        panelTitle: {text: P.title, x: P.titleX, y: P.titleY, ox: P.cx, oy: P.cy, font: 'bold ' + P.titleSize + 'px ' + FONT}
      },
      scales: {
        x: {
          type: 'linear', min: P.xMin, max: P.xMax,
          afterBuildTicks: s => { s.ticks = epochTicks.map(v => ({value: v})); },
          afterFit: s => { s.height = (P.cy + P.ch) - P.plot.b; },
          ticks: {
            callback: (v, i) => epochTickLabels[i],
            autoSkip: false, maxRotation: 0, minRotation: 0,
            padding: P.xTickPad, color: S.textColor,
            font: {family: FONT, size: S.tickSize}
          },
          grid: {color: S.grid, lineWidth: S.gridW, drawTicks: true, tickLength: S.tickLen, tickColor: S.tickMark, tickWidth: 1},
          border: {display: true, color: S.spine, width: S.spineW},
          title: {display: true, text: 'Epoch', color: S.textColor,
            font: {family: FONT, size: S.axisTitleSize}, padding: {top: 0, bottom: P.xTitlePad}}
        },
        y: {
          type: 'linear', min: P.yMin, max: P.yMax,
          afterBuildTicks: s => { s.ticks = P.yTicks.map(v => ({value: v})); },
          afterFit: s => { s.width = P.plot.l - P.cx; },
          ticks: {
            callback: (v, i) => P.yTickLabels[i],
            autoSkip: false,
            padding: P.yTickPad, color: S.textColor,
            font: {family: FONT, size: S.tickSize}
          },
          grid: {color: S.grid, lineWidth: S.gridW, drawTicks: true, tickLength: S.tickLen, tickColor: S.tickMark, tickWidth: 1},
          border: {display: true, color: S.spine, width: S.spineW},
          title: {display: true, text: P.yTitle, color: S.textColor,
            font: {family: FONT, size: S.axisTitleSize}, padding: {top: P.yTitlePad, bottom: 0}}
        }
      }
    }
  });
});
</script>
</body>
</html>
